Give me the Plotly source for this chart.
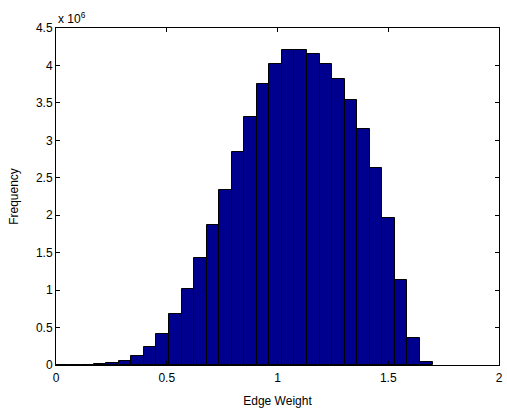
import plotly.graph_objects as go

# Histogram bin centers (edge weight) and bin width
bin_centers = [0.0283, 0.0850, 0.1417, 0.1983, 0.2550, 0.3117, 0.3683, 0.4250,
               0.4817, 0.5383, 0.5950, 0.6517, 0.7083, 0.7650, 0.8217, 0.8783,
               0.9350, 0.9917, 1.0483, 1.1050, 1.1617, 1.2183, 1.2750, 1.3317,
               1.3883, 1.4450, 1.5017, 1.5583, 1.6150, 1.6717]
bin_width = 0.056667

# Frequencies in millions (x 10^6)
freq_millions = [0.0, 0.0, 0.003, 0.010, 0.027, 0.053, 0.124, 0.240,
                 0.414, 0.677, 1.019, 1.425, 1.870, 2.340, 2.850, 3.315,
                 3.750, 4.020, 4.205, 4.205, 4.148, 4.020, 3.818, 3.534,
                 3.147, 2.626, 1.958, 1.130, 0.365, 0.044]

x_ticks = [0, 0.5, 1, 1.5, 2]
x_ticktext = ["0", "0.5", "1", "1.5", "2"]
y_ticks = [0, 0.5, 1, 1.5, 2, 2.5, 3, 3.5, 4, 4.5]
y_ticktext = ["0", "0.5", "1", "1.5", "2", "2.5", "3", "3.5", "4", "4.5"]

font_family = "Liberation Sans, Arial, Helvetica, sans-serif"
fs = 12

fig = go.Figure()
fig.add_trace(go.Bar(
    x=bin_centers,
    y=freq_millions,
    width=[bin_width] * len(bin_centers),
    marker=dict(color="rgb(0,0,143)", line=dict(color="black", width=1)),
    hoverinfo="x+y",
))

axis_common = dict(
    showgrid=False,
    zeroline=False,
    showline=True,
    linecolor="black",
    linewidth=1,
    mirror="allticks",
    ticks="inside",
    ticklen=4,
    tickwidth=1,
    tickcolor="black",
    tickfont=dict(family=font_family, size=fs, color="black"),
)

fig.update_layout(
    width=507,
    height=411,
    margin=dict(l=56, r=4, t=28, b=46),
    paper_bgcolor="white",
    plot_bgcolor="white",
    bargap=0,
    showlegend=False,
    font=dict(family=font_family, size=fs, color="black"),
    xaxis=dict(
        range=[0, 2],
        tickvals=x_ticks,
        ticktext=x_ticktext,
        ticklabelstandoff=2,
        title=dict(text="Edge Weight", font=dict(family=font_family, size=fs), standoff=12),
        **axis_common,
    ),
    yaxis=dict(
        range=[0, 4.5],
        tickvals=y_ticks,
        ticktext=y_ticktext,
        title=dict(text="Frequency", font=dict(family=font_family, size=fs), standoff=14),
        **axis_common,
    ),
    annotations=[dict(
        text="x 10<sup>6</sup>",
        xref="paper", yref="paper",
        x=0, y=1,
        xanchor="left", yanchor="bottom",
        yshift=0,
        showarrow=False,
        font=dict(family=font_family, size=fs, color="black"),
    )],
)

fig.write_html("out.html")
